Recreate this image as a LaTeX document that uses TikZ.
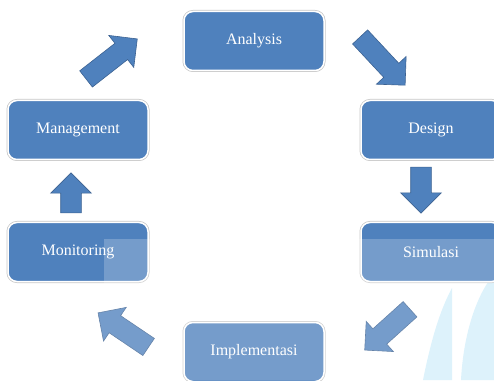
\documentclass[tikz,border=0pt]{standalone}
\usepackage{fontspec}
\setmainfont{Liberation Serif}
\usepackage{tikz}
\usetikzlibrary{shapes, arrows}
\definecolor{boxblue}{RGB}{79,129,189}
\definecolor{arrowline}{RGB}{60,98,146}
\definecolor{markcyan}{RGB}{212,239,250}
\tikzstyle{phase}=[rectangle, rounded corners=9pt, fill=boxblue, draw=white, line width=1.5pt, preaction={draw=black!22, line width=3pt}, minimum width=140pt, minimum height=59pt, text=white, font=\fontsize{16}{19}\selectfont]
\tikzstyle{blockarrow}=[single arrow, fill=boxblue, draw=arrowline, line width=0.6pt, single arrow head extend=10pt, inner xsep=0pt, inner ysep=10pt]

\begin{document}
\begin{tikzpicture}[x=1pt, y=1pt]
			\useasboundingbox (0,0) rectangle (494,380);

			% faint marks in the lower right corner
			\fill[markcyan] (423,0) .. controls (431,40) and (440,70) .. (452,92) -- (452,0) -- cycle;
			\fill[markcyan] (461,0) .. controls (463,40) and (474,82) .. (494,106) -- (494,0) -- cycle;

			\node[phase] (analysis) at (254,339) {Analysis};
			\node[phase] (management) at (78,250) {Management};
			\node[phase] (design) at (431,250) {Design};
			\node[phase] (monitoring) at (78,128) {Monitoring};
			\node[phase] (simulasi) at (431,128) {Simulasi};
			\node[phase] (implementasi) at (254,28) {Implementasi};

			% block arrows between the phases
			\node[blockarrow, minimum height=65pt, rotate=38] (a1) at (107.6,317.9) {};
			\node[blockarrow, minimum height=66pt, rotate=-47] (a2) at (379.1,322.7) {};
			\node[blockarrow, minimum height=46pt, rotate=-90] (a3) at (421,195) {};
			\node[blockarrow, minimum height=61pt, rotate=-138] (a4) at (391.2,53.8) {};
			\node[blockarrow, minimum height=61pt, rotate=146] (a5) at (127.6,47.2) {};
			\node[blockarrow, minimum height=40pt, rotate=90] (a6) at (71,182) {};

			% lighter band over the lower part
			\fill[white, opacity=0.22] (104,141) -- (494,141) -- (494,0) -- (0,0) -- (0,95) -- (104,95) -- cycle;
		\end{tikzpicture}
\end{document}
